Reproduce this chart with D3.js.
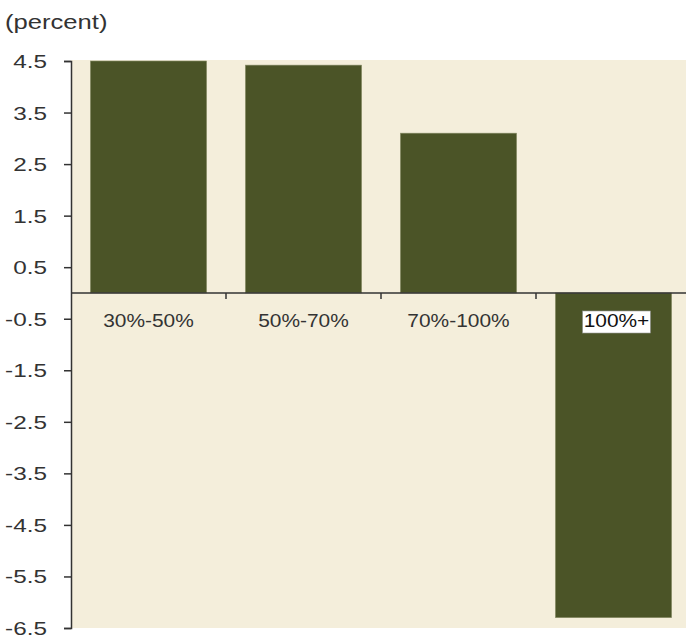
<!DOCTYPE html>
<html><head><meta charset="utf-8">
<script src="https://cdn.jsdelivr.net/npm/d3@7"></script>
<style>body{margin:0;background:#fff;}svg{display:block;font-family:"Liberation Sans",Arial,sans-serif;}</style>
</head><body>
<svg id="c" width="686" height="641"></svg>
<script>
const categories = ["30%-50%", "50%-70%", "70%-100%", "100%+"];
const values = [4.5, 4.42, 3.1, -6.3];
const yTicks = [4.5, 3.5, 2.5, 1.5, 0.5, -0.5, -1.5, -2.5, -3.5, -4.5, -5.5, -6.5];
const unitLabel = "(percent)";

(function () {
const svg = d3.select("#c");
const FONT = "'Liberation Sans',Arial,sans-serif";
const mLeft = 71, mRight = 691, mTop = 61, mBottom = 628;
const x = d3.scaleBand().domain(categories).range([mLeft, mRight]).paddingInner(0.25).paddingOuter(0.125);
const y = d3.scaleLinear().domain([-6.5, 4.5]).range([mBottom, mTop]);

function stretch(sel, f) {
  sel.each(function () {
    const w = this.getComputedTextLength();
    d3.select(this).attr("textLength", w * f).attr("lengthAdjust", "spacingAndGlyphs");
  });
}

svg.append("rect").attr("x", mLeft).attr("y", mTop - 1).attr("width", 686 - mLeft).attr("height", mBottom - mTop + 1).attr("fill", "#f4eedb");

svg.append("text").attr("x", 5).attr("y", 29).attr("font-size", 20).attr("font-family", FONT).attr("fill", "#333").text(unitLabel)
  .call(stretch, 1.28);

svg.selectAll("rect.bar").data(categories).enter().append("rect").attr("class", "bar")
  .attr("x", d => x(d)).attr("width", x.bandwidth())
  .attr("y", (d, i) => y(Math.max(0, values[i])))
  .attr("height", (d, i) => Math.abs(y(values[i]) - y(0)))
  .attr("fill", "#4b5427").attr("stroke", "#8a8f6a").attr("stroke-width", 0.6);

const fmt = d => d.toFixed(1);
const yAxis = svg.append("g").attr("transform", `translate(${mLeft},0)`)
  .call(d3.axisLeft(y).tickValues(yTicks).tickFormat(fmt).tickSize(7).tickSizeOuter(7).tickPadding(24));
yAxis.select(".domain").attr("stroke", "#333").attr("stroke-width", 1.5);
yAxis.selectAll(".tick line").attr("stroke", "#333").attr("stroke-width", 1.5);
yAxis.selectAll(".tick text").attr("font-size", 18).attr("fill", "#333").attr("font-family", FONT)
  .attr("x", -24).attr("dy", "0.36em")
  .call(stretch, 1.35);

const step = x.step();
const boundaries = categories.slice(1).map(c => x(c) - (step - x.bandwidth()) / 2);
const zg = svg.append("g");
zg.append("line").attr("x1", mLeft).attr("x2", 686).attr("y1", y(0)).attr("y2", y(0)).attr("stroke", "#333").attr("stroke-width", 1.5);
zg.selectAll("line.t").data(boundaries).enter().append("line").attr("class", "t")
  .attr("x1", d => d).attr("x2", d => d).attr("y1", y(0)).attr("y2", y(0) + 6).attr("stroke", "#333").attr("stroke-width", 1.5);

const labY = 327;
categories.forEach((c, i) => {
  const cx = x(c) + x.bandwidth() / 2 + (values[i] < 0 ? 3 : 0);
  const t = svg.append("text").attr("x", cx).attr("y", labY).attr("text-anchor", "middle")
    .attr("font-size", 19).attr("font-family", FONT).attr("fill", "#333").text(c);
  t.call(stretch, 1.1);
  if (values[i] < 0) {
    const bb = t.node().getBBox();
    svg.insert("rect", () => t.node()).attr("x", bb.x - 1).attr("y", bb.y + 1).attr("width", bb.width + 2).attr("height", bb.height + 1)
      .attr("fill", "#fff").attr("stroke", "#999").attr("stroke-width", 0.6);
    t.attr("fill", "#111");
  }
});
})();
</script>
</body></html>
